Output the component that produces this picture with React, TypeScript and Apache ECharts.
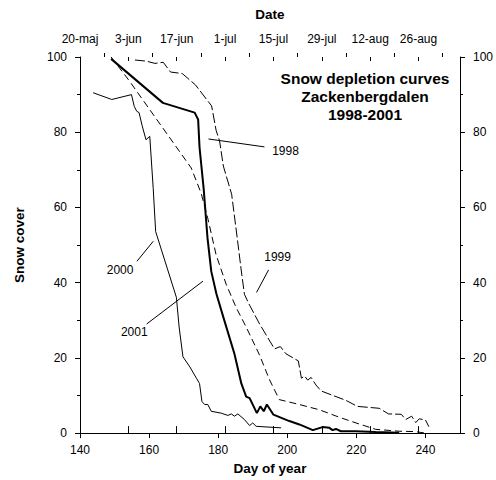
import React, { useEffect, useRef } from 'react';
import * as echarts from 'echarts';

// Day of year and snow cover (%) per season
const days1998 = [149, 154, 172.2, 175.1, 177.0, 179.4, 182.3, 185.2, 188.1, 192.0, 194.9, 197.7, 203.5, 209.3, 215.1, 219.9, 225.6, 232.4, 237, 240];
const cover1998 = [100, 94, 70.5, 63.7, 57.1, 47.4, 39.6, 33.4, 28.2, 20.7, 14.1, 8.9, 7.6, 6.2, 4.2, 2.7, 1.0, 0.5, 0.4, 0];

const days1999 = [155.9, 159.2, 161.7, 164.1, 166.2, 169.6, 173.4, 178.1, 179.4, 180.4, 181.5, 183.9, 185.5, 186.7, 187.6, 189.1, 192.0, 196.3, 198.0, 199.6, 203.2, 204.1, 205.0, 205.9, 206.9, 208.3, 209.8, 217.0, 220.3, 226.6, 229.3, 233.0, 234.3, 236.0, 237.2, 238.2, 240.0, 241.0];
const cover1999 = [99.2, 98.9, 98.3, 98.6, 96.0, 95.6, 92.6, 87.0, 80.5, 77.7, 71.0, 63.5, 52, 43.1, 36.9, 34.0, 29.0, 22.4, 23.0, 21.1, 19.2, 14.6, 15.2, 14.1, 14.8, 12.8, 11.2, 8.7, 7.1, 6.6, 5.1, 5.0, 3.6, 4.5, 2.8, 3.8, 3.5, 1.7];

const days2000 = [143.8, 149.2, 154.9, 155.7, 156.4, 157.1, 158.0, 159.1, 160.2, 161.2, 161.9, 167.9, 168.7, 169.8, 171.8, 173.7, 174.6, 175.3, 176.1, 177.0, 178.0, 180.9, 182.8, 183.8, 184.7, 185.7, 187.6, 189.1, 190.0, 191.0, 198.2];
const cover2000 = [90.5, 88.7, 90.0, 86.9, 85.6, 85.2, 81.7, 78.0, 78.9, 65.0, 53.6, 36.1, 28.2, 20.3, 17.6, 14.6, 13.2, 8.4, 7.6, 7.6, 5.8, 5.3, 4.7, 5.1, 4.5, 5.1, 3.6, 2.0, 2.7, 1.8, 1.4];

const days2001 = [149.0, 164.0, 173.2, 174.2, 174.6, 175.8, 176.9, 178.0, 179.5, 181.6, 184.7, 186.7, 188.1, 189.1, 191.2, 192.2, 193.2, 194.1, 196.0, 200.6, 203.5, 207.4, 210.2, 212.2, 213.1, 214.1, 215.5, 219.9, 225.6, 232.4];
const cover2001 = [99.5, 87.8, 85.2, 83.4, 76, 65, 52, 43, 37, 30.5, 21.1, 13.2, 9.7, 9.3, 5.3, 7.1, 5.8, 7.6, 4.9, 3.2, 2.3, 0.8, 1.6, 1.4, 0.8, 1.1, 0.5, 0.5, 0.3, 0.1];

// Axis ticks
const dayTicks = [140, 160, 180, 200, 220, 240];
const dateTickDays = [140, 154, 168, 182, 196, 210, 224, 238];
const dateTickLabels = ['20-maj', '3-jun', '17-jun', '1-jul', '15-jul', '29-jul', '12-aug', '26-aug'];
const dateMinorDays = [147, 161, 175, 189, 203, 217, 231, 245];

// Curve labels (day, cover) and leader lines
const labelNames = ['1998', '1999', '2000', '2001'];
const labelDays = [199.5, 197.2, 151.6, 155.7];
const labelCovers = [75.0, 46.8, 43.3, 27.0];
const leaderStartDays = [177.2, 194.6, 161.2, 175.6];
const leaderStartCovers = [78.2, 43.4, 51.0, 40.4];
const leaderEndDays = [193.4, 191.1, 156.5, 159.3];
const leaderEndCovers = [76.1, 37.4, 45.7, 29.0];

const titleLines = ['Snow depletion curves', 'Zackenbergdalen', '1998-2001'];

const FONT = '"Liberation Sans", Arial, sans-serif';

const zip = (xs: number[], ys: number[]) => xs.map((x, i) => [x, ys[i]]);

export default function App() {
  const ref = useRef<HTMLDivElement>(null);
  useEffect(() => {
    if (!ref.current) return;
    const chart = echarts.init(ref.current, null, { renderer: 'svg' });
    const axisText = { color: '#000', fontSize: 12, fontFamily: FONT };
    const nameText = { color: '#000', fontSize: 13.5, fontWeight: 'bold' as const, fontFamily: FONT };
    const line = { show: true, lineStyle: { color: '#000', width: 1 } };

    const yAxisBase = {
      type: 'value' as const,
      min: 0,
      max: 100,
      interval: 20,
      axisLine: line,
      axisTick: { show: true, length: 5, lineStyle: { color: '#000' } },
      minorTick: { show: true, splitNumber: 2, length: 3, lineStyle: { color: '#000' } },
      splitLine: { show: false },
      axisLabel: { ...axisText, margin: 13 },
    };

    const curve = (name: string, xs: number[], ys: number[], width: number, type: any) => ({
      name,
      type: 'line' as const,
      data: zip(xs, ys),
      showSymbol: false,
      symbol: 'none',
      silent: true,
      lineStyle: { color: '#000', width, type },
    });

    const leaders = labelNames.map((n, i) => ({
      name: 'leader ' + n,
      type: 'line' as const,
      data: [
        [leaderStartDays[i], leaderStartCovers[i]],
        [leaderEndDays[i], leaderEndCovers[i]],
      ],
      symbol: 'none',
      silent: true,
      lineStyle: { color: '#000', width: 1 },
    }));

    chart.setOption({
      animation: false,
      backgroundColor: '#fff',
      grid: { left: 80, right: 35, top: 57, bottom: 43 },
      xAxis: [
        {
          type: 'value',
          position: 'bottom',
          min: 140,
          max: 250,
          interval: 20,
          name: 'Day of year',
          nameLocation: 'middle',
          nameGap: 26,
          nameTextStyle: nameText,
          axisLine: line,
          axisTick: { show: true, length: 5, customValues: dayTicks, lineStyle: { color: '#000' } },
          axisLabel: { ...axisText, margin: 11, customValues: dayTicks },
          splitLine: { show: false },
        },
        {
          type: 'value',
          position: 'top',
          min: 140,
          max: 250,
          name: 'Date',
          nameLocation: 'middle',
          nameGap: 36,
          nameTextStyle: nameText,
          axisLine: line,
          axisTick: { show: true, length: 7, customValues: dateTickDays, lineStyle: { color: '#000' } },
          axisLabel: {
            ...axisText,
            margin: 12,
            customValues: dateTickDays,
            formatter: (v: number) => {
              const i = dateTickDays.indexOf(Math.round(v));
              return i >= 0 ? dateTickLabels[i] : '';
            },
          },
          splitLine: { show: false },
        },
        {
          type: 'value',
          position: 'top',
          min: 140,
          max: 250,
          axisLine: { show: false },
          axisTick: { show: true, length: 4, customValues: dateMinorDays, lineStyle: { color: '#000' } },
          axisLabel: { show: false },
          splitLine: { show: false },
        },
        {
          type: 'value',
          position: 'top',
          min: 140,
          max: 250,
          axisLine: { show: false },
          axisTick: { show: true, inside: true, length: 4, customValues: dateTickDays, lineStyle: { color: '#000' } },
          axisLabel: { show: false },
          splitLine: { show: false },
        },
      ],
      yAxis: [
        {
          ...yAxisBase,
          position: 'left',
          name: 'Snow cover',
          nameLocation: 'middle',
          nameGap: 54,
          nameTextStyle: nameText,
        },
        { ...yAxisBase, position: 'right' },
      ],
      graphic: [
        {
          type: 'text',
          x: 365,
          y: 69,
          style: {
            text: titleLines.join('\n'),
            fill: '#000',
            fontSize: 15.5,
            fontWeight: 'bold',
            fontFamily: FONT,
            align: 'center',
            verticalAlign: 'top',
            lineHeight: 18,
          },
        },
      ],
      series: [
        curve('1998', days1998, cover1998, 1, [7, 4]),
        curve('1999', days1999, cover1999, 1, [10, 3]),
        curve('2000', days2000, cover2000, 1, 'solid'),
        curve('2001', days2001, cover2001, 2, 'solid'),
        ...leaders,
        {
          name: 'labels',
          type: 'scatter',
          silent: true,
          symbolSize: 0,
          itemStyle: { color: '#000', opacity: 1 },
          data: labelNames.map((n, i) => ({ name: n, value: [labelDays[i], labelCovers[i]] })),
          label: {
            show: true,
            position: 'inside',
            formatter: '{b}',
            color: '#000',
            opacity: 1,
            fontSize: 12,
            fontFamily: FONT,
          },
        },
      ],
    });
    return () => chart.dispose();
  }, []);
  return <div ref={ref} style={{ width: 496, height: 480, position: 'absolute', left: 0, top: 0 }} />;
}
